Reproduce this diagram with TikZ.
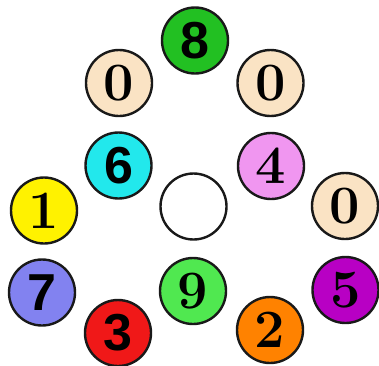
\documentclass[tikz,border=0pt]{standalone}
\usepackage{fontspec}
\newfontfamily\sansdig{Liberation Sans}
\definecolor{cgreen}{RGB}{34,192,34}
\definecolor{ccyan}{RGB}{34,232,236}
\definecolor{cpink}{RGB}{240,150,240}
\definecolor{cbeige}{RGB}{250,227,196}
\definecolor{cyellow}{RGB}{255,242,0}
\definecolor{cblue}{RGB}{130,130,240}
\definecolor{clgreen}{RGB}{80,232,80}
\definecolor{cpurple}{RGB}{184,0,196}
\definecolor{cred}{RGB}{240,24,24}
\definecolor{corange}{RGB}{255,130,0}
\tikzset{
  ball/.style={circle, draw=black!90, line width=2.4pt, minimum size=66pt, inner sep=0pt},
  sdig/.style={ball, font=\sansdig\bfseries\fontsize{52}{52}\selectfont},
  rdig/.style={ball, font=\bfseries\fontsize{54}{54}\selectfont}
}
\begin{document}
\begin{tikzpicture}[x=1pt,y=-1pt]
\useasboundingbox (0,0) rectangle (379,365);
\node[sdig, fill=cgreen] (n8) at (195,40.5) {8};
\node[rdig, fill=cbeige] (z1) at (119,83) {0};
\node[rdig, fill=cbeige] (z2) at (270.5,83) {0};
\node[sdig, fill=ccyan] (n6) at (118.5,165.5) {6};
\node[rdig, fill=cpink] (n4) at (271,166) {4};
\node[ball, fill=white] (c) at (193.5,206.5) {};
\node[rdig, fill=cyellow] (n1) at (44,210.5) {1};
\node[rdig, fill=cbeige] (z3) at (345,206) {0};
\node[sdig, fill=cblue] (n7) at (42,292.5) {7};
\node[rdig, fill=clgreen] (n9) at (193,291) {9};
\node[rdig, fill=cpurple] (n5) at (345.5,290) {5};
\node[sdig, fill=cred] (n3) at (118,333) {3};
\node[rdig, fill=corange] (n2) at (270,330) {2};
\end{tikzpicture}
\end{document}
